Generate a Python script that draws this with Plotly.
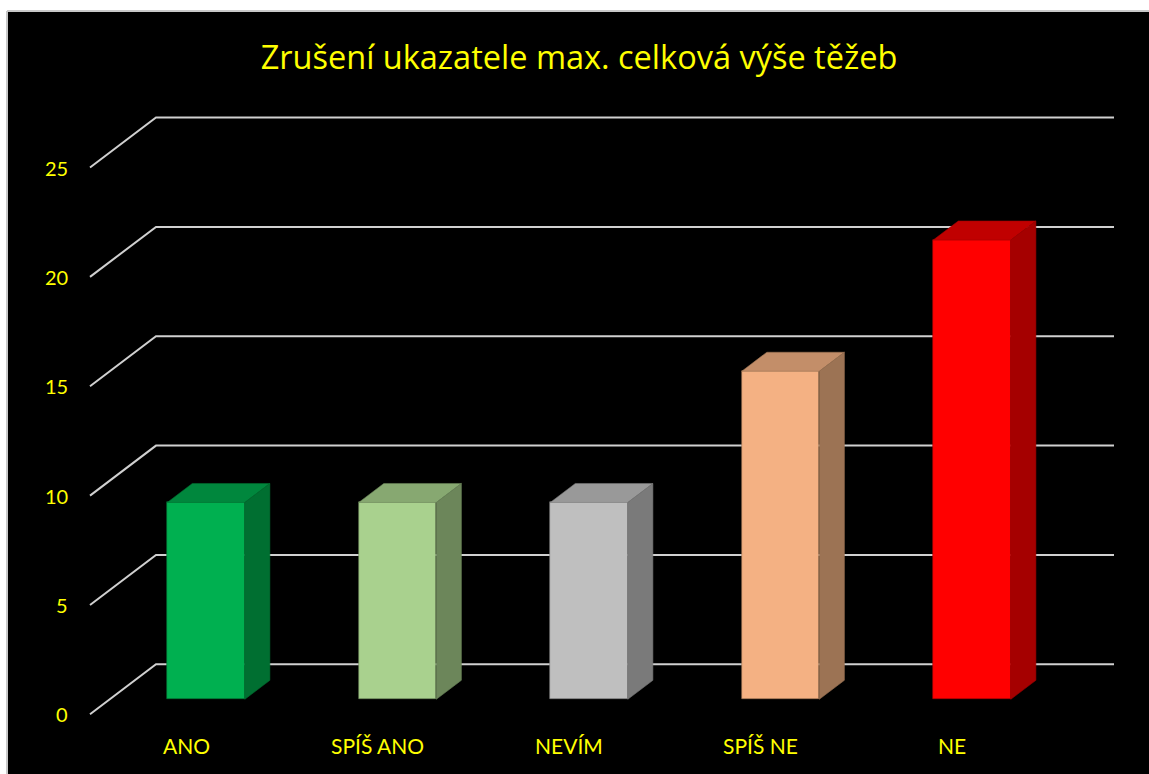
import plotly.graph_objects as go

# ---- data ----
categories = ["ANO", "SPÍŠ ANO", "NEVÍM", "SPÍŠ NE", "NE"]
values = [9, 9, 9, 15, 21]
tick_values = [0, 5, 10, 15, 20, 25]
title_text = "Zrušení ukazatele max. celková výše těžeb"

front_colors = ["#00B050", "#A9D18E", "#BFBFBF", "#F4B183", "#FF0000"]
top_colors = ["#00873D", "#87A871", "#999999", "#C38E69", "#C00000"]
side_colors = ["#006F31", "#6C865A", "#7A7A7A", "#9C7354", "#A50000"]

# ---- geometry (pseudo-3D offsets in axis units) ----
W, H = 1149, 774
PX_U = 191.5          # pixels per category
PX_V = 21.87          # pixels per value unit
X0_PX, Y0_PX = 206.0, 699.3   # pixel of first bar front centre at value 0
BAR_W = 0.405
FULL_DX, FULL_DY = 66 / PX_U, 50 / PX_V      # floor depth
FRONT_FRAC = 0.30                              # bar front position within depth
BAR_FRAC = 0.38                                # bar depth fraction
f_dx, f_dy = -FRONT_FRAC * FULL_DX, -FRONT_FRAC * FULL_DY
b_dx, b_dy = (1 - FRONT_FRAC) * FULL_DX, (1 - FRONT_FRAC) * FULL_DY
d_dx, d_dy = BAR_FRAC * FULL_DX, BAR_FRAC * FULL_DY
wall_left = (90 - X0_PX) / PX_U
wall_right = (1114 - X0_PX) / PX_U

xr = [-X0_PX / PX_U, (W - X0_PX) / PX_U]
yr = [(Y0_PX - H) / PX_V, Y0_PX / PX_V]

xs = list(range(len(categories)))

fig = go.Figure()

# front faces
fig.add_trace(go.Bar(x=xs, y=values, width=BAR_W, marker=dict(color=front_colors,
                     line=dict(width=0.6, color=side_colors)), hoverinfo="skip"))

# top and side faces
for i, v in enumerate(values):
    l, r = i - BAR_W / 2, i + BAR_W / 2
    fig.add_trace(go.Scatter(
        x=[l, r, r + d_dx, l + d_dx, l], y=[v, v, v + d_dy, v + d_dy, v],
        mode="lines", fill="toself", fillcolor=top_colors[i],
        line=dict(color=side_colors[i], width=0.6), hoverinfo="skip"))
    fig.add_trace(go.Scatter(
        x=[r, r, r + d_dx, r + d_dx, r], y=[0, v, v + d_dy, d_dy, 0],
        mode="lines", fill="toself", fillcolor=side_colors[i],
        line=dict(color=side_colors[i], width=0.6), hoverinfo="skip"))

x_left, y_top = 7 / W, 1 - 11 / H
shapes = [
    dict(type="rect", xref="paper", yref="paper", x0=-0.05, x1=1.05, y0=y_top, y1=1.05,
         fillcolor="white", line=dict(width=0), layer="below"),
    dict(type="rect", xref="paper", yref="paper", x0=-0.05, x1=x_left, y0=-0.05, y1=1.05,
         fillcolor="white", line=dict(width=0), layer="below"),
    dict(type="line", xref="paper", yref="paper", x0=x_left, x1=1.05, y0=y_top, y1=y_top,
         line=dict(color="#C8C8C8", width=2), layer="below"),
    dict(type="line", xref="paper", yref="paper", x0=x_left, x1=x_left, y0=-0.05, y1=y_top,
         line=dict(color="#C8C8C8", width=2), layer="below"),
]
for t in tick_values:
    shapes.append(dict(type="path", layer="below",
                       path=f"M {wall_left},{t + f_dy} L {wall_left + FULL_DX},{t + f_dy + FULL_DY} L {wall_right},{t + b_dy}",
                       line=dict(color="#D0D0D0", width=2)))

annotations = []
for t in tick_values:
    annotations.append(dict(x=(70 - X0_PX) / PX_U, y=t + f_dy, text=str(t), showarrow=False,
                            xanchor="right", yanchor="middle",
                            font=dict(color="#FFFF00", size=20, family="Lato")))
for i, c in enumerate(categories):
    annotations.append(dict(x=i + f_dx, y=(Y0_PX - 745) / PX_V, text=c, showarrow=False,
                            xanchor="center", yanchor="middle",
                            font=dict(color="#FFFF00", size=21, family="Lato")))

fig.update_layout(
    width=W, height=H, margin=dict(l=0, r=0, t=0, b=0),
    paper_bgcolor="black", plot_bgcolor="black", showlegend=False,
    title=dict(text=title_text, x=579 / W, y=1 - 58 / H, xanchor="center", yanchor="middle",
               font=dict(color="#FFFF00", size=32.5, family="Open Sans")),
    xaxis=dict(range=xr, visible=False, fixedrange=True),
    yaxis=dict(range=yr, visible=False, fixedrange=True),
    shapes=shapes, annotations=annotations, bargap=0,
)

fig.write_html("out.html", config={"displayModeBar": False},
               post_script="document.body.style.margin='0';document.body.style.overflow='hidden';document.body.style.background='black';")
